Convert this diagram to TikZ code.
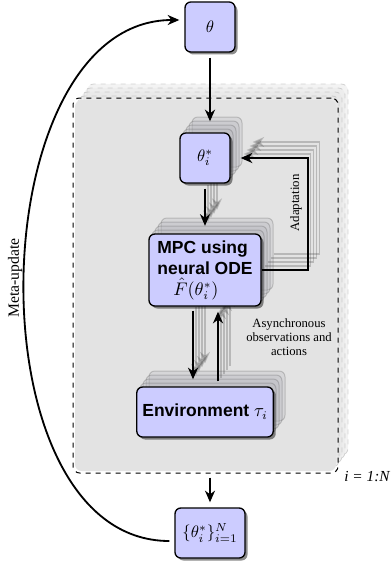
\documentclass[tikz,border=0pt]{standalone}
\usepackage{fontspec}
\setmainfont{Liberation Serif}
\setsansfont{Liberation Sans}
\usetikzlibrary{arrows.meta,shadows}
\begin{document}
\begin{tikzpicture}[x=0.6pt,y=-0.6pt,
  box/.style={draw=black, line width=0.8pt, rounded corners=3.5pt, fill=blue!20},
  shad/.style={drop shadow={shadow xshift=1.5pt, shadow yshift=-1.5pt, fill=black, opacity=0.45}},
  arr/.style={line width=1.1pt, -{Stealth[length=7pt,width=6pt,inset=2.2pt]}},
  ghostbox/.style={draw=black!70, line width=0.6pt, rounded corners=3.5pt, fill=blue!10!black!30, opacity=0.25},
  ghostarr/.style={arr, draw=black!70, opacity=0.28},
  bgfill/.style={fill=black!11, rounded corners=4pt},
  bgghost/.style={fill=black!10, draw=black!35, dashed, line width=0.5pt, rounded corners=4pt, opacity=0.45},
  lbl/.style={font=\fontsize{7.6}{8.4}\selectfont, align=center},
  sqbox/.style={box, minimum width=30pt, minimum height=30pt, inner sep=1pt},
  mpcbox/.style={minimum width=67.2pt, minimum height=43.2pt},
  envbox/.style={minimum width=81.6pt, minimum height=30pt},
]
\useasboundingbox (0,0) rectangle (391,563);

% background stack
\foreach \k in {4,3,2,1} {
  \begin{scope}[shift={(3*\k,-4*\k)}]
    \path[bgghost] (75,100) rectangle (336,471);
  \end{scope}
}
\path[bgfill] (75,100) rectangle (336,471);

% ghost copies of inner content
\foreach \k in {4,3,2,1} {
  \begin{scope}[shift={(3*\k,-4*\k)}]
    \node[ghostbox, minimum width=30pt, minimum height=30pt] (cti) at (205,158) {};
    \node[ghostbox, mpcbox] (cmpc) at (205,270) {};
    \node[ghostbox, envbox] (cenv) at (205,412) {};
    \draw[ghostarr, shorten <=3pt, shorten >=4.5pt] (cti.south) -- (cmpc.north);
    \draw[ghostarr, shorten <=2.4pt, shorten >=4.2pt] ([xshift=-7.2pt]cmpc.south) -- ([xshift=-7.2pt]cenv.north);
    \draw[ghostarr, shorten <=3pt, shorten >=3pt] ([xshift=7.8pt]cenv.north) -- ([xshift=7.8pt]cmpc.south);
    \draw[ghostarr, shorten >=6pt] (cmpc.east) -- ++(46,0) |- (cti.east);
  \end{scope}
}

% dashed loop box
\node[draw=black, dashed, line width=0.6pt, rounded corners=4pt, minimum width=159pt, minimum height=225pt, inner sep=0pt] (loop) at (205.5,285.5) {};

% front nodes
\node[sqbox, shad] (theta) at (210,27) {$\theta$};
\node[sqbox, shad] (ti) at (205,158) {$\theta_i^*$};
\node[box, shad, mpcbox, align=left, font=\sffamily\bfseries\fontsize{10.5}{12.6}\selectfont] (mpc) at (205,270) {MPC using\\neural ODE\\\hspace*{9.6pt}$\hat{F}(\theta_i^*)$};
\node[box, shad, envbox, font=\sffamily\bfseries\fontsize{10.5}{12.6}\selectfont] (env) at (205,412) {Environment $\tau_i$};
\node[box, shad, minimum width=42pt, minimum height=30pt, inner sep=1pt] (sum) at (210,533) {$\{\theta_i^*\}_{i=1}^N$};

% front connectors
\draw[arr, shorten <=3pt, shorten >=6.6pt] (theta.south) -- (theta.south |- ti.north);
\draw[arr, shorten <=3pt, shorten >=4.5pt] (ti.south) -- (mpc.north);
\draw[arr, shorten <=2.4pt, shorten >=4.2pt] ([xshift=-7.2pt]mpc.south) -- ([xshift=-7.2pt]env.north);
\draw[arr, shorten <=3pt, shorten >=3pt] ([xshift=7.8pt]env.north) -- ([xshift=7.8pt]mpc.south);
\draw[arr, shorten >=6pt] (mpc.east) -- ++(46,0) |- (ti.east);
\draw[arr, shorten <=2.4pt, shorten >=3pt] (sum.north |- loop.south) -- (sum.north);
\draw[arr, shorten <=3pt, shorten >=3pt] ([yshift=-4.8pt]sum.west) .. controls +(-205,0) and +(-205,0) .. ([yshift=4.2pt]theta.west);

% labels
\node[rotate=90, font=\fontsize{9.4}{11}\selectfont] (mu) at (15,278) {Meta-update};
\node[rotate=90, font=\fontsize{7.7}{9}\selectfont] (ad) at (296,203) {Adaptation};
\node[lbl] (async) at (289,337) {Asynchronous\\observations and\\actions};
\node[anchor=west, font=\fontsize{9.2}{11}\selectfont\itshape, inner sep=0pt] (iN) at (344,477) {i = 1:N};
\end{tikzpicture}
\end{document}
